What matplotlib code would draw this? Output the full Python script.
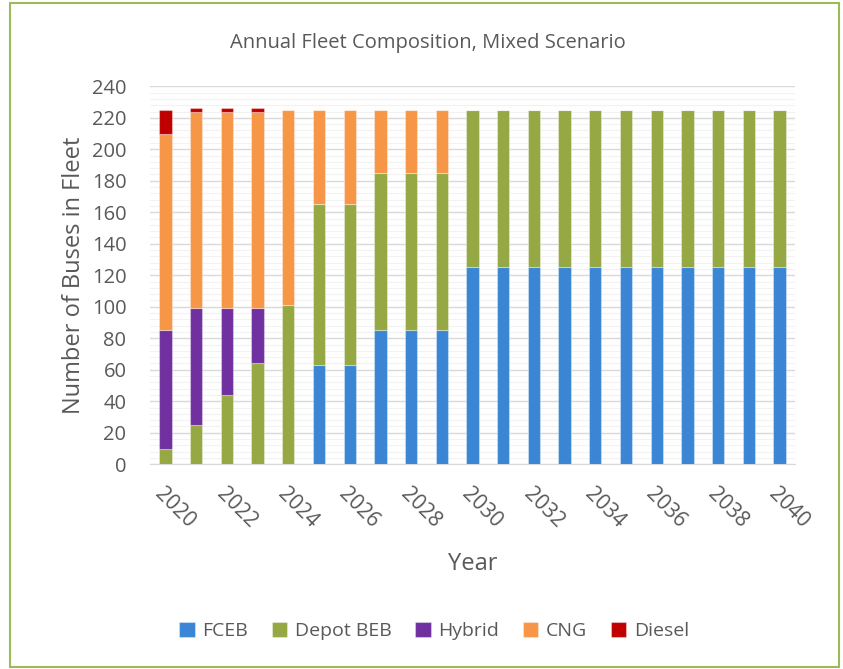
import numpy as np
import matplotlib
matplotlib.use("Agg")
import matplotlib.pyplot as plt
from matplotlib.patches import Rectangle
from matplotlib.ticker import MultipleLocator

years = list(range(2020, 2041))
fceb = [0, 0, 0, 0, 0, 63, 63, 85, 85, 85] + [125] * 11
depot_beb = [10, 25, 44, 64, 101, 102, 102, 100, 100, 100] + [100] * 11
hybrid = [75, 74, 55, 35, 0, 0, 0, 0, 0, 0] + [0] * 11
cng = [125, 125, 125, 125, 124, 60, 60, 40, 40, 40] + [0] * 11
diesel = [15, 2, 2, 2, 0, 0, 0, 0, 0, 0] + [0] * 11

series = [
    ("FCEB", fceb, "#3A86D4"),
    ("Depot BEB", depot_beb, "#95A844"),
    ("Hybrid", hybrid, "#7030A0"),
    ("CNG", cng, "#F79646"),
    ("Diesel", diesel, "#C00000"),
]

plt.rcParams['font.family'] = ['Open Sans', 'DejaVu Sans']
text_color = "#595959"

fig = plt.figure(figsize=(8.43, 6.69), dpi=100)
ax = fig.add_axes([0.178, 0.306, 0.765, 0.565])

x = np.arange(len(years))
bottom = np.zeros(len(years))
for name, vals, color in series:
    vals = np.array(vals, dtype=float)
    ax.bar(x, vals, 0.4, bottom=bottom, color=color, label=name,
           edgecolor=(1, 1, 1, 0.35), linewidth=0.8, zorder=3)
    bottom += vals

ax.set_ylim(0, 240)
ax.set_xlim(-0.5, len(years) - 0.5)
ax.yaxis.set_major_locator(MultipleLocator(20))
ax.yaxis.set_minor_locator(MultipleLocator(4))
ax.grid(axis='y', which='major', color='#D9D9D9', linewidth=1.0, zorder=0)
ax.grid(axis='y', which='minor', color='#F2F2F2', linewidth=0.8, zorder=0)
ax.set_xticks(x[::2])
ax.set_xticklabels([str(y) for y in years[::2]], rotation=-45, ha='left',
                   rotation_mode='anchor', fontsize=15, color=text_color)
ax.tick_params(axis='y', labelsize=14.5, labelcolor=text_color, length=0, pad=17)
ax.tick_params(axis='y', which='minor', length=0)
ax.tick_params(axis='x', length=0, pad=14)
for s in ['top', 'right', 'left']:
    ax.spines[s].set_visible(False)
ax.spines['bottom'].set_color('#D9D9D9')

ax.set_ylabel("Number of Buses in Fleet", fontsize=17, color=text_color, labelpad=4)
ax.set_xlabel("Year", fontsize=17, color=text_color, labelpad=14)
fig.text(0.507, 0.935, "Annual Fleet Composition, Mixed Scenario", ha='center',
         va='center', fontsize=14.5, color=text_color)

handles, labels = ax.get_legend_handles_labels()
fig.legend(handles, labels, loc='center', bbox_to_anchor=(0.515, 0.057), ncol=5,
           frameon=False, fontsize=14, handlelength=0.8, handleheight=0.8,
           handletextpad=0.4, columnspacing=1.2, labelcolor=text_color)

fig.patches.append(Rectangle((0.012, 0.003), 0.983, 0.992, transform=fig.transFigure,
                             fill=False, edgecolor='#9BBB59', linewidth=1.5))

fig.savefig("out.png", dpi=100)
